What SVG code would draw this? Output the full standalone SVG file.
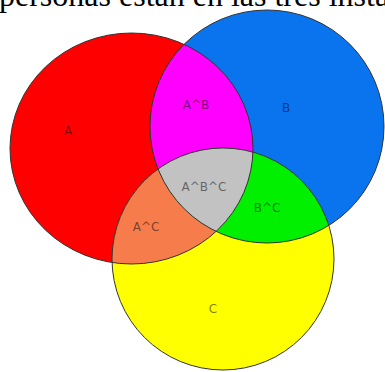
<svg xmlns="http://www.w3.org/2000/svg" width="385" height="372" viewBox="0 0 385 372">
<style>
.lbl{font-family:"DejaVu Sans",sans-serif;font-size:12px;fill:#000;fill-opacity:0.5;text-anchor:middle}
.edge{fill:none;stroke:#333;stroke-width:1}
.head{font-family:"Liberation Serif","Times New Roman",serif;font-size:32px;fill:#000}
</style>
<defs>
<clipPath id="clipA"><ellipse cx="131.5" cy="148.5" rx="121.5" ry="115.5"/></clipPath>
<clipPath id="clipB"><ellipse cx="267" cy="126.5" rx="117" ry="116.5"/></clipPath>
</defs>
<rect width="385" height="372" fill="#fff"/>
<text class="head" x="-1" y="6">personas están en las tres instalaciones</text>
<g id="A"><ellipse cx="131.5" cy="148.5" rx="121.5" ry="115.5" fill="#ff0000"/></g>
<g id="B"><ellipse cx="267" cy="126.5" rx="117" ry="116.5" fill="#0a74ee"/></g>
<g id="C"><circle cx="223" cy="259" r="111" fill="#ffff00"/></g>
<g id="AB" clip-path="url(#clipA)"><ellipse cx="267" cy="126.5" rx="117" ry="116.5" fill="#ff00ff"/></g>
<g id="AC" clip-path="url(#clipA)"><circle cx="223" cy="259" r="111" fill="#f77c4c"/></g>
<g id="BC" clip-path="url(#clipB)"><circle cx="223" cy="259" r="111" fill="#00f000"/></g>
<g id="ABC" clip-path="url(#clipA)"><g clip-path="url(#clipB)"><circle cx="223" cy="259" r="111" fill="#c2c2c2"/></g></g>
<g id="outlines">
<ellipse class="edge" cx="131.5" cy="148.5" rx="121.5" ry="115.5"/>
<ellipse class="edge" cx="267" cy="126.5" rx="117" ry="116.5"/>
<circle class="edge" cx="223" cy="259" r="111"/>
</g>
<g id="labels">
<text class="lbl" x="68" y="135">A</text>
<text class="lbl" x="196" y="109">A^B</text>
<text class="lbl" x="286" y="112">B</text>
<text class="lbl" x="204" y="191">A^B^C</text>
<text class="lbl" x="267" y="212">B^C</text>
<text class="lbl" x="146" y="231">A^C</text>
<text class="lbl" x="213" y="313">C</text>
</g>
</svg>
